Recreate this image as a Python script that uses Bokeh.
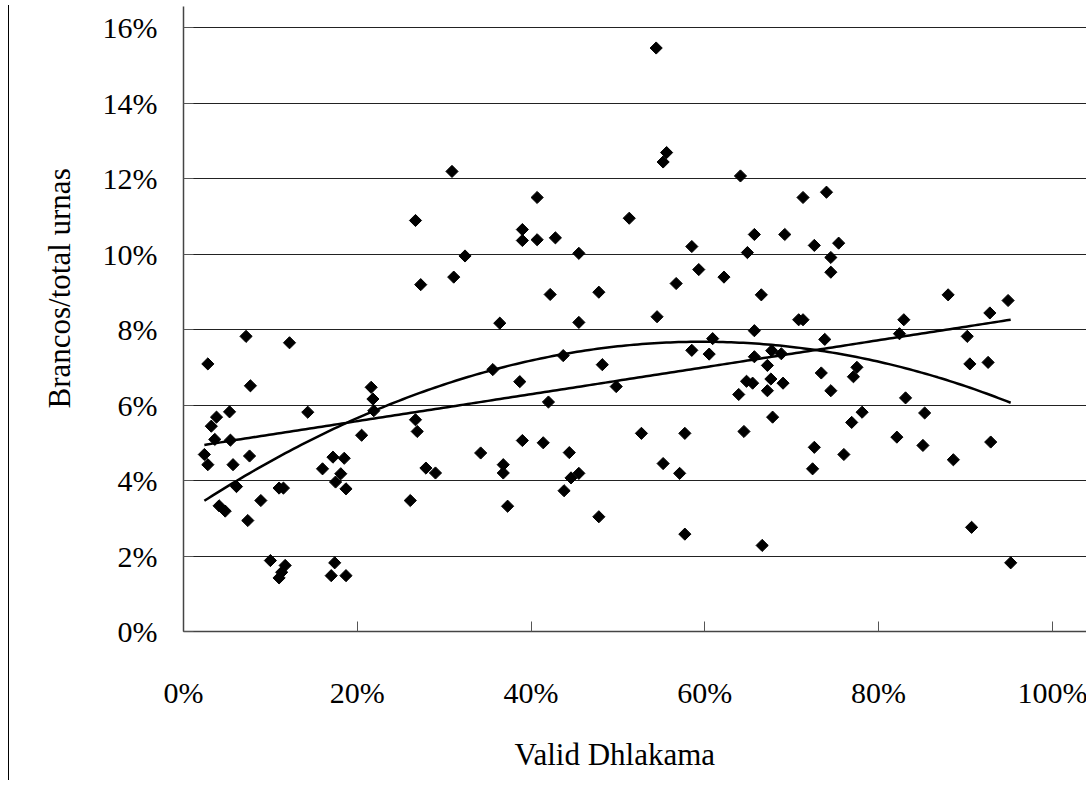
import numpy as np
from bokeh.plotting import figure
from bokeh.models import NumeralTickFormatter, FixedTicker, Div, Range1d, Title
from bokeh.layouts import row
from bokeh.embed import file_html
from bokeh.resources import INLINE

# Valid Dhlakama share (fraction) and Brancos/total urnas (fraction)
valid_dhlakama = [
    0.028, 0.072, 0.122, 0.077, 0.053, 0.038, 0.032, 0.036, 0.054, 0.024,
    0.028, 0.057, 0.076, 0.143, 0.061, 0.041, 0.048, 0.074, 0.089, 0.110,
    0.115, 0.100, 0.117, 0.113, 0.110, 0.160, 0.172, 0.185, 0.181, 0.175,
    0.187, 0.174, 0.170, 0.187, 0.205,
    0.309, 0.267, 0.407, 0.390, 0.390, 0.407, 0.324, 0.311, 0.273, 0.364,
    0.216, 0.218, 0.219, 0.356, 0.387, 0.267, 0.269, 0.390, 0.342, 0.368,
    0.368, 0.279, 0.290, 0.261, 0.373,
    0.544, 0.556, 0.552, 0.428, 0.513, 0.455, 0.585, 0.593, 0.567, 0.422,
    0.478, 0.455, 0.545, 0.437, 0.482, 0.498, 0.585, 0.605, 0.609, 0.420,
    0.414, 0.444, 0.446, 0.455, 0.438, 0.527, 0.552, 0.577, 0.571, 0.478,
    0.577,
    0.641, 0.713, 0.740, 0.657, 0.692, 0.726, 0.754, 0.649, 0.745, 0.745,
    0.622, 0.665, 0.708, 0.713, 0.657, 0.738, 0.657, 0.677, 0.688, 0.672,
    0.648, 0.655, 0.676, 0.690, 0.639, 0.672, 0.734, 0.745, 0.775, 0.771,
    0.678, 0.645, 0.781, 0.769, 0.726, 0.760, 0.724, 0.666,
    0.880, 0.949, 0.928, 0.829, 0.824, 0.902, 0.905, 0.926, 0.831, 0.853,
    0.821, 0.851, 0.886, 0.929, 0.907, 0.952,
]
brancos_share = [
    0.0709, 0.0782, 0.0765, 0.0651, 0.0582, 0.0568, 0.0544, 0.0509, 0.0507, 0.0469,
    0.0442, 0.0442, 0.0465, 0.0581, 0.0384, 0.0333, 0.0319, 0.0294, 0.0347, 0.0380,
    0.0380, 0.0188, 0.0175, 0.0157, 0.0142, 0.0431, 0.0462, 0.0459, 0.0418, 0.0396,
    0.0378, 0.0182, 0.0148, 0.0148, 0.0520,
    0.1219, 0.1089, 0.1150, 0.1065, 0.1036, 0.1038, 0.0995, 0.0939, 0.0919, 0.0817,
    0.0647, 0.0616, 0.0585, 0.0694, 0.0662, 0.0561, 0.0530, 0.0506, 0.0473, 0.0442,
    0.0420, 0.0433, 0.0420, 0.0347, 0.0332,
    0.1546, 0.1269, 0.1244, 0.1043, 0.1095, 0.1002, 0.1020, 0.0959, 0.0922, 0.0893,
    0.0899, 0.0819, 0.0834, 0.0731, 0.0707, 0.0649, 0.0745, 0.0735, 0.0776, 0.0608,
    0.0500, 0.0474, 0.0407, 0.0419, 0.0373, 0.0525, 0.0445, 0.0525, 0.0419, 0.0304,
    0.0258,
    0.1207, 0.1150, 0.1164, 0.1052, 0.1052, 0.1023, 0.1029, 0.1004, 0.0991, 0.0952,
    0.0939, 0.0892, 0.0826, 0.0826, 0.0797, 0.0774, 0.0728, 0.0744, 0.0736, 0.0705,
    0.0663, 0.0658, 0.0669, 0.0658, 0.0628, 0.0638, 0.0685, 0.0638, 0.0700, 0.0675,
    0.0568, 0.0530, 0.0581, 0.0554, 0.0488, 0.0469, 0.0431, 0.0228,
    0.0892, 0.0877, 0.0844, 0.0826, 0.0789, 0.0782, 0.0709, 0.0713, 0.0619, 0.0579,
    0.0515, 0.0493, 0.0455, 0.0502, 0.0276, 0.0182,
]
x_ticks = [0.0, 0.2, 0.4, 0.6, 0.8, 1.0]
y_ticks = [0.0, 0.02, 0.04, 0.06, 0.08, 0.10, 0.12, 0.14, 0.16]
x_title = "Valid Dhlakama"
y_title = "Brancos/total urnas"

x = np.array(valid_dhlakama)
y = np.array(brancos_share)
xs = np.linspace(x.min(), x.max(), 200)
lin = np.polyval(np.polyfit(x, y, 1), xs)
quad = np.polyval(np.polyfit(x, y, 2), xs)

FONT = "'Liberation Serif', 'Times New Roman', serif"

p = figure(width=1078, height=799, output_backend="svg", toolbar_location=None,
           x_range=Range1d(0, 1.045), y_range=Range1d(0, 0.1656),
           min_border_left=169, min_border_right=1, min_border_top=6,
           min_border_bottom=168, background_fill_color="white",
           border_fill_color="white")
p.outline_line_color = None

p.xgrid.visible = False
p.ygrid.ticker = FixedTicker(ticks=y_ticks)
p.ygrid.grid_line_color = "#222222"
p.ygrid.grid_line_width = 1

for ax, ticks in ((p.xaxis, x_ticks), (p.yaxis, y_ticks)):
    ax.ticker = FixedTicker(ticks=ticks)
    ax.formatter = NumeralTickFormatter(format="0%")
    ax.major_tick_in = 10
    ax.major_tick_out = 0
    ax.minor_tick_line_color = None
    ax.major_tick_line_color = "#555555"
    ax.axis_line_color = "#444444"
    ax.axis_line_width = 1.5
    ax.major_label_text_font = FONT
    ax.major_label_text_font_size = "30px"
    ax.major_label_text_color = "black"

p.xaxis.major_label_standoff = 44
p.yaxis.major_label_standoff = 26

# axis titles as side-panel titles so they can sit off-centre like the original
xt = Title(text=x_title, align="left", offset=331, standoff=47,
           text_font=FONT, text_font_size="31px", text_font_style="normal",
           text_color="black")
yt = Title(text=y_title, align="left", offset=223, standoff=46,
           text_font=FONT, text_font_size="31px", text_font_style="normal",
           text_color="black")
p.add_layout(xt, "below")
p.add_layout(yt, "left")

p.line(xs, lin, line_color="black", line_width=2.5)
p.line(xs, quad, line_color="black", line_width=2.5)
p.scatter(x, y, marker="square", size=8.6, angle=np.pi / 4,
          fill_color="black", line_color="black")

border = Div(width=4, height=775, styles={"border-right": "1px solid black"})
layout = row(border, p, styles={"margin": "0"})

open("out.html", "w").write(file_html(layout, INLINE))
